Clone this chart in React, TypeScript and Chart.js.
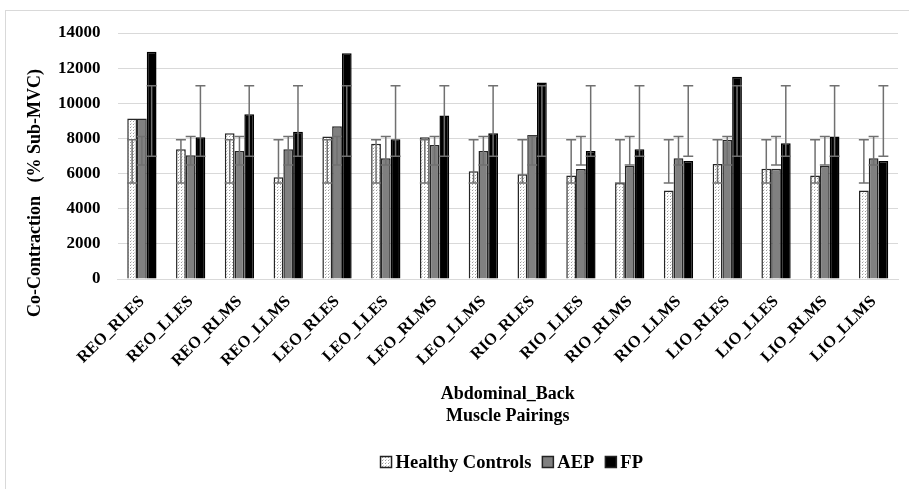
import React, { useEffect, useRef } from "react";
import { Chart, registerables } from "chart.js";

Chart.register(...registerables);

const categories = [
  "REO_RLES", "REO_LLES", "REO_RLMS", "REO_LLMS",
  "LEO_RLES", "LEO_LLES", "LEO_RLMS", "LEO_LLMS",
  "RIO_RLES", "RIO_LLES", "RIO_RLMS", "RIO_LLMS",
  "LIO_RLES", "LIO_LLES", "LIO_RLMS", "LIO_LLMS",
];

const seriesNames = ["Healthy Controls", "AEP", "FP"];

const healthyControls = [9130, 7380, 8300, 5790, 8110, 7700, 8060, 6130, 5960, 5890, 5470, 5040, 6540, 6280, 5890, 5040];
const aep = [9130, 7040, 7280, 7380, 8700, 6870, 7620, 7280, 8190, 6260, 6430, 6870, 7930, 6280, 6430, 6870];
const fp = [12940, 8060, 9380, 8380, 12850, 7960, 9300, 8300, 11190, 7280, 7380, 6710, 11510, 7720, 8110, 6710];

const hcErrLow = [5470, 5470, 5470, 5470, 5470, 5470, 5470, 5470, 5470, 5470, 5470, 5470, 5470, 5470, 5470, 5470];
const hcErrHigh = [7930, 7930, 7930, 7930, 7930, 7930, 7930, 7930, 7930, 7930, 7930, 7930, 7930, 7930, 7930, 7930];
const aepErrLow = [6490, 6490, 6490, 6490, 6490, 6490, 6490, 6490, 6490, 6490, 6490, 6490, 6490, 6490, 6490, 6490];
const aepErrHigh = [8110, 8110, 8110, 8110, 8110, 8110, 8110, 8110, 8110, 8110, 8110, 8110, 8110, 8110, 8110, 8110];
const fpErrLow = [6980, 6980, 6980, 6980, 6980, 6980, 6980, 6980, 6980, 6980, 6980, 6980, 6980, 6980, 6980, 6980];
const fpErrHigh = [11000, 11000, 11000, 11000, 11000, 11000, 11000, 11000, 11000, 11000, 11000, 11000, 11000, 11000, 11000, 11000];

const yMin = 0;
const yMax = 14000;
const yStep = 2000;

const yTitle = "Co-Contraction   (% Sub-MVC)";
const xTitle = ["Abdominal_Back", "Muscle Pairings"];

const FONT = "'Liberation Serif', 'Times New Roman', serif";

function makeDotPattern(): CanvasPattern | string {
  const c = document.createElement("canvas");
  c.width = 3;
  c.height = 3;
  const g = c.getContext("2d");
  if (!g) return "#ffffff";
  g.fillStyle = "#ffffff";
  g.fillRect(0, 0, 3, 3);
  g.fillStyle = "#9c9c9c";
  g.fillRect(1, 1, 1, 1);
  g.fillStyle = "#d4d4d4";
  g.fillRect(2, 0, 1, 1);
  const p = g.createPattern(c, "repeat");
  return p || "#ffffff";
}

export default function App() {
  const ref = useRef<HTMLCanvasElement | null>(null);

  useEffect(() => {
    if (!ref.current) return;
    const pattern = makeDotPattern();
    const errLows = [hcErrLow, aepErrLow, fpErrLow];
    const errHighs = [hcErrHigh, aepErrHigh, fpErrHigh];

    const errorBars = {
      id: "errorBars",
      afterDatasetsDraw(chart: any) {
        const ctx = chart.ctx;
        const ys = chart.scales.y;
        ctx.save();
        ctx.strokeStyle = "#707070";
        ctx.lineWidth = 1.5;
        chart.data.datasets.forEach((_ds: any, i: number) => {
          const meta = chart.getDatasetMeta(i);
          meta.data.forEach((el: any, j: number) => {
            const x = el.x;
            const yl = ys.getPixelForValue(errLows[i][j]);
            const yh = ys.getPixelForValue(errHighs[i][j]);
            const cw = 5;
            ctx.beginPath();
            ctx.moveTo(x, yl);
            ctx.lineTo(x, yh);
            ctx.moveTo(x - cw, yl);
            ctx.lineTo(x + cw, yl);
            ctx.moveTo(x - cw, yh);
            ctx.lineTo(x + cw, yh);
            ctx.stroke();
          });
        });
        ctx.restore();
      },
    };

    const extras = {
      id: "extras",
      afterDraw(chart: any) {
        const ctx = chart.ctx;
        const area = chart.chartArea;
        ctx.save();
        // y-axis title
        ctx.font = `bold 18px ${FONT}`;
        ctx.fillStyle = "#000";
        ctx.textAlign = "center";
        ctx.textBaseline = "middle";
        ctx.translate(area.left - 82, (area.top + area.bottom) / 2 + 37);
        ctx.rotate(-Math.PI / 2);
        ctx.fillText(yTitle, 0, 0);
        ctx.restore();

        // legend
        ctx.save();
        ctx.font = `bold 18.5px ${FONT}`;
        ctx.textBaseline = "middle";
        ctx.textAlign = "left";
        const box = 11;
        const gap = 4;
        const itemGap = 11;
        const datasets = chart.data.datasets;
        const widths = datasets.map((d: any) => box + gap + ctx.measureText(d.label).width);
        const total = widths.reduce((a: number, b: number) => a + b, 0) + itemGap * (datasets.length - 1);
        let x = (area.left + area.right) / 2 + 4 - total / 2;
        const yc = 462;
        datasets.forEach((d: any, i: number) => {
          ctx.fillStyle = d.backgroundColor;
          ctx.fillRect(x, yc - box / 2, box, box);
          ctx.strokeStyle = "#222";
          ctx.lineWidth = 1.5;
          ctx.strokeRect(x, yc - box / 2, box, box);
          ctx.fillStyle = "#000";
          ctx.fillText(d.label, x + box + gap, yc + 1);
          x += widths[i] + itemGap;
        });
        ctx.restore();
      },
    };

    const chart = new Chart(ref.current, {
      type: "bar",
      data: {
        labels: categories,
        datasets: [
          {
            label: seriesNames[0],
            data: healthyControls,
            backgroundColor: pattern as any,
            borderColor: "#262626",
            borderWidth: 1.5,
          },
          {
            label: seriesNames[1],
            data: aep,
            backgroundColor: "#808080",
            borderColor: "#262626",
            borderWidth: 1.5,
          },
          {
            label: seriesNames[2],
            data: fp,
            backgroundColor: "#000000",
            borderColor: "#000000",
            borderWidth: 1.5,
          },
        ],
      },
      options: {
        responsive: false,
        animation: false,
        layout: { padding: { left: 41, right: 11, top: 33, bottom: 55 } },
        datasets: {
          bar: { categoryPercentage: 0.6, barPercentage: 1.0 },
        },
        plugins: {
          legend: { display: false },
          tooltip: { enabled: false },
        },
        scales: {
          x: {
            grid: { display: false, drawTicks: false },
            border: { display: true, color: "#d9d9d9", width: 1 },
            ticks: {
              minRotation: 45,
              maxRotation: 45,
              autoSkip: false,
              padding: 13,
              color: "#000",
              font: { family: FONT, size: 16.5, weight: "bold" },
            },
            title: {
              display: true,
              text: xTitle,
              color: "#000",
              font: { family: FONT, size: 18, weight: "bold", lineHeight: 1.22 },
              padding: { top: 0, bottom: 7 },
            },
            afterFit: (scale: any) => {
              scale.height = 155;
              scale.paddingLeft = 0;
              scale.paddingRight = 0;
            },
          } as any,
          y: {
            min: yMin,
            max: yMax,
            ticks: {
              stepSize: yStep,
              padding: 17,
              color: "#000",
              font: { family: FONT, size: 17, weight: "bold" },
              callback: (v: any) => String(v),
            },
            grid: { color: "#d9d9d9", lineWidth: 1, drawTicks: false },
            border: { display: false },
            afterFit: (scale: any) => {
              scale.paddingTop = 0;
              scale.paddingBottom = 0;
            },
          } as any,
        },
      },
      plugins: [errorBars, extras],
    } as any);
    return () => chart.destroy();
  }, []);

  return (
    <div
      style={{
        position: "fixed",
        left: 0,
        top: 0,
        width: 909,
        height: 489,
        overflow: "hidden",
        background: "#fff",
      }}
    >
      <div
        style={{
          position: "absolute",
          left: 5,
          top: 10,
          width: 1000,
          height: 1000,
          border: "1px solid #d9d9d9",
        }}
      />
      <canvas
        ref={ref}
        width={909}
        height={489}
        style={{ position: "absolute", left: 0, top: 0 }}
      />
    </div>
  );
}
